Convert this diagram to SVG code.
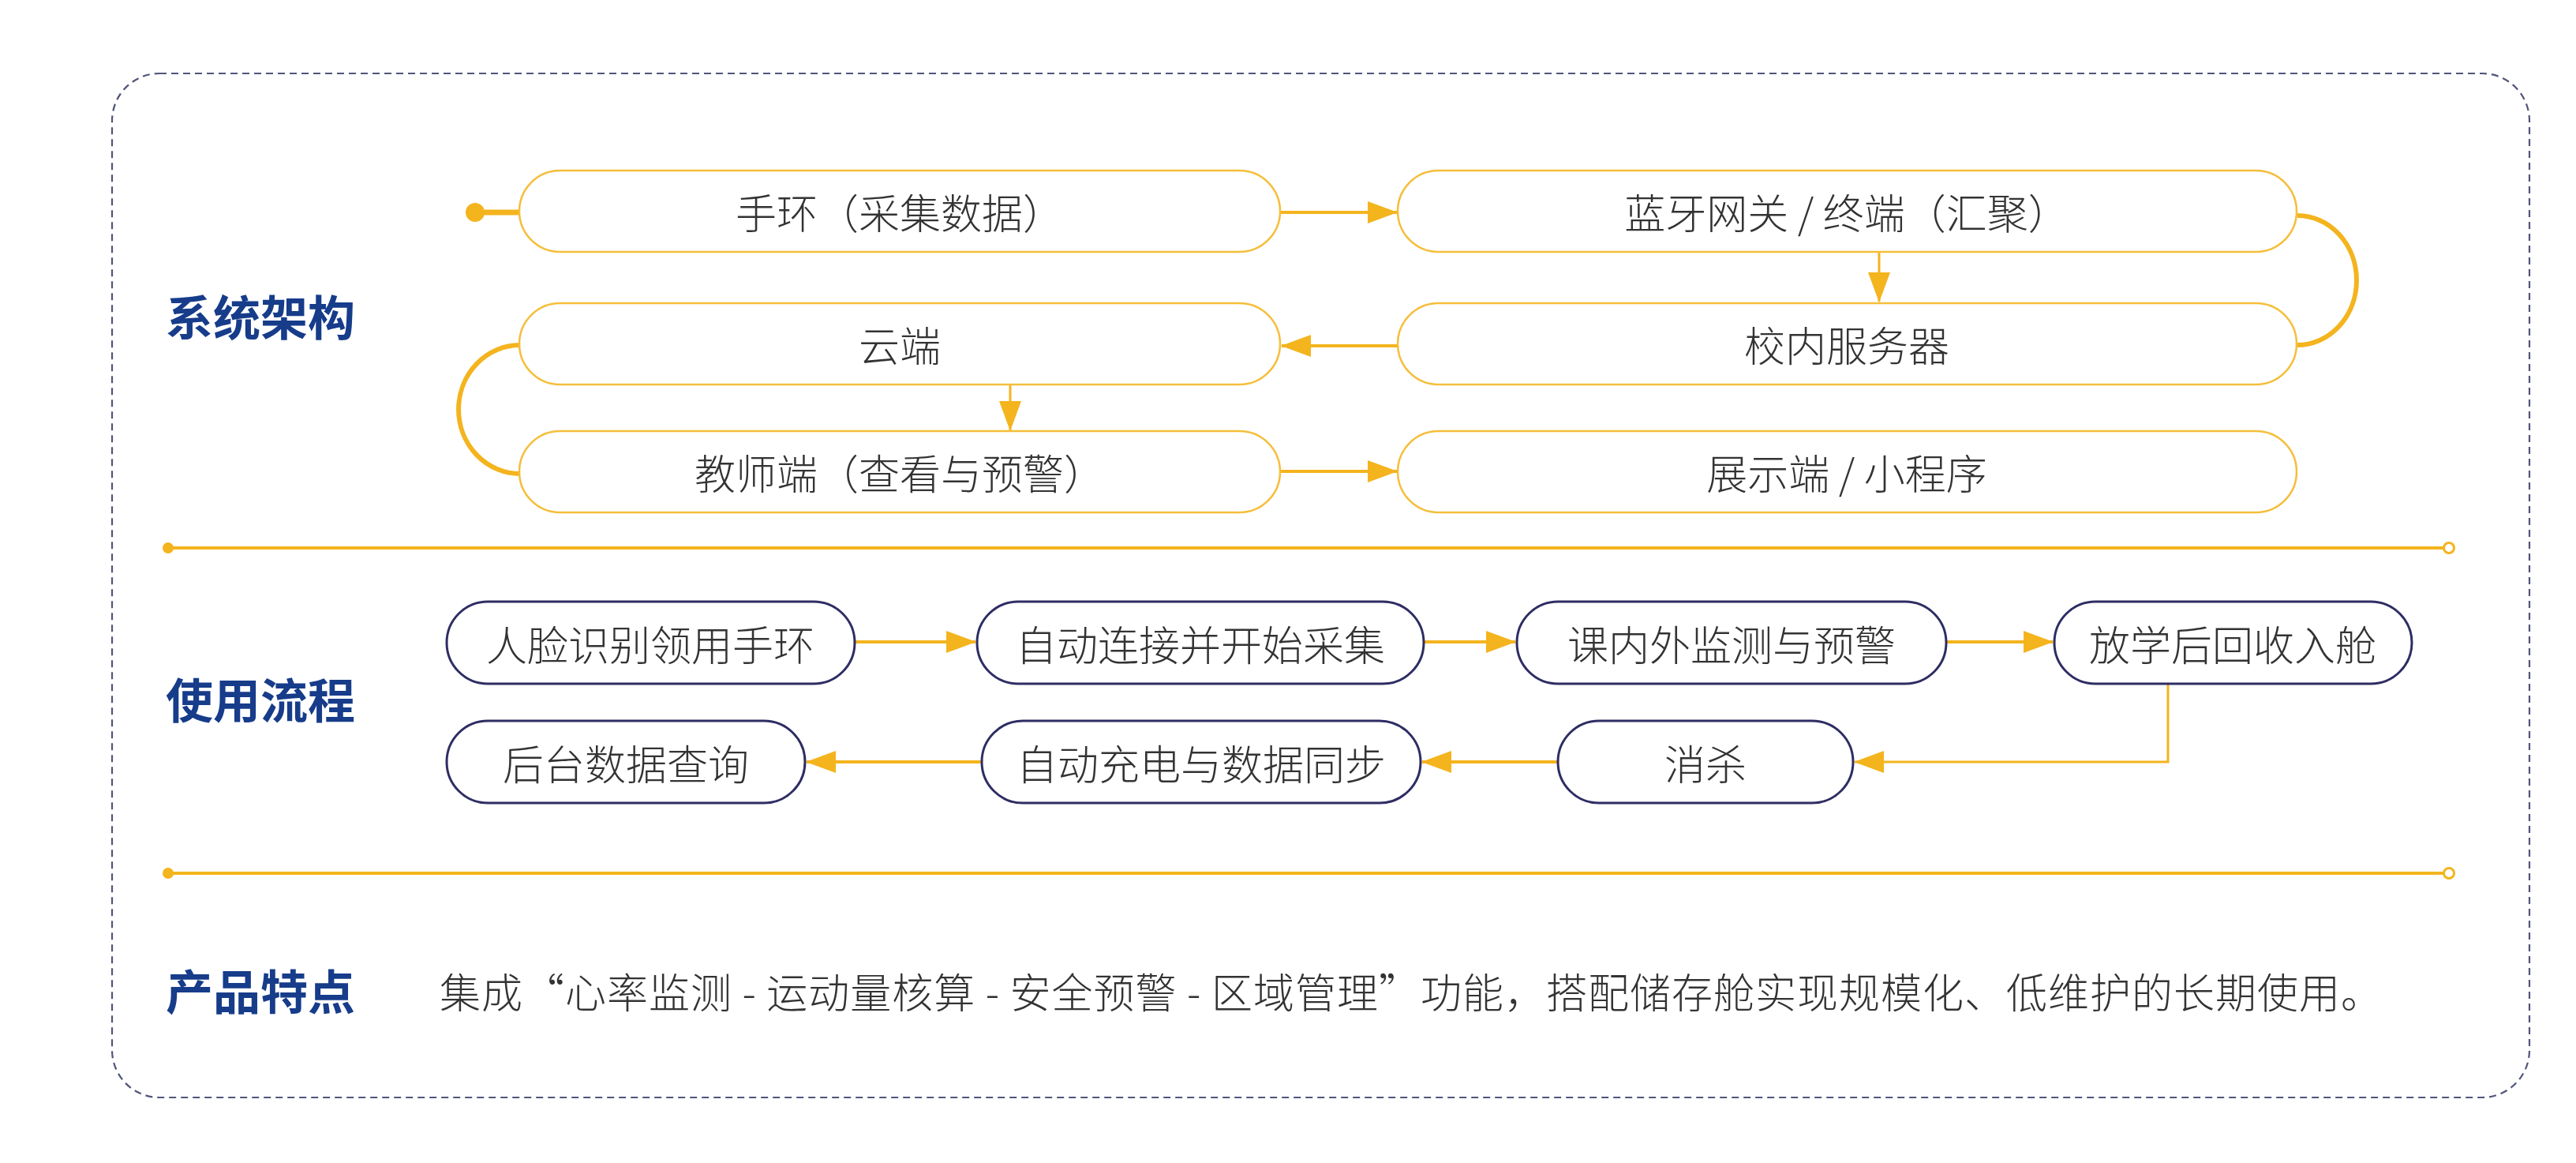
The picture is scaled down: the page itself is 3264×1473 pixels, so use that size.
<svg xmlns="http://www.w3.org/2000/svg" width="3264" height="1473" viewBox="0 0 3264 1473">
<defs>
<marker id="ah" viewBox="0 0 38 28" refX="37" refY="14" markerWidth="38" markerHeight="28" markerUnits="userSpaceOnUse" orient="auto">
<path d="M0,0 L38,14 L0,28 z" fill="#F4B41E"/>
</marker>
<style>
.title{font-family:"Noto Sans CJK SC","Noto Sans",sans-serif;font-weight:700;font-size:60px;fill:#163C8A;dominant-baseline:central}
.t{font-family:"Noto Sans CJK SC","Noto Sans",sans-serif;font-weight:300;font-size:52px;fill:#333333;text-anchor:middle;dominant-baseline:central}
.ft{font-family:"Noto Sans CJK SC","Noto Sans",sans-serif;font-weight:300;font-size:52px;fill:#333333;dominant-baseline:central}
.ynode{fill:#FFFFFF;stroke:#F5BE3A;stroke-width:2.5}
.bnode{fill:#FFFFFF;stroke:#2E2D63;stroke-width:3}
.ln{fill:none;stroke:#F4B41E;stroke-width:4}
.thin{fill:none;stroke:#F4B41E;stroke-width:3}
.arc{fill:none;stroke:#F4B41E;stroke-width:6}
.div{stroke:#F4B41E;stroke-width:4}
</style>
</defs>
<rect x="142" y="93" width="3063" height="1297" rx="60" ry="60" fill="#FFFFFF" stroke="#50557A" stroke-width="2.2" stroke-dasharray="9 6"/>

<g id="titles">
<text class="title" x="210" y="398">系统架构</text>
<text class="title" x="210" y="883">使用流程</text>
<text class="title" x="210" y="1252">产品特点</text>
</g>

<g id="dividers">
<line class="div" x1="213" y1="694" x2="3097" y2="694"/>
<circle cx="213" cy="694" r="7" fill="#F4B41E"/>
<circle cx="3103" cy="694" r="6.5" fill="#FFFFFF" stroke="#F4B41E" stroke-width="3"/>
<line class="div" x1="213" y1="1106" x2="3097" y2="1106"/>
<circle cx="213" cy="1106" r="7" fill="#F4B41E"/>
<circle cx="3103" cy="1106" r="6.5" fill="#FFFFFF" stroke="#F4B41E" stroke-width="3"/>
</g>

<g id="connectors">
<line x1="602" y1="269" x2="658" y2="269" stroke="#F4B41E" stroke-width="7"/>
<circle cx="602" cy="269" r="12" fill="#F4B41E"/>
<line class="ln" x1="1622" y1="269" x2="1770" y2="269" marker-end="url(#ah)"/>
<line class="thin" x1="2381" y1="318" x2="2381" y2="382" marker-end="url(#ah)"/>
<path class="arc" d="M2911 273 A75 82 0 0 1 2911 437"/>
<line class="ln" x1="1771" y1="438" x2="1624" y2="438" marker-end="url(#ah)"/>
<path class="arc" d="M659 437 A78 81.5 0 0 0 659 600"/>
<line class="thin" x1="1280" y1="487" x2="1280" y2="545" marker-end="url(#ah)"/>
<line class="ln" x1="1622" y1="597" x2="1770" y2="597" marker-end="url(#ah)"/>

<line class="ln" x1="1083" y1="813" x2="1236" y2="813" marker-end="url(#ah)"/>
<line class="ln" x1="1804" y1="813" x2="1920" y2="813" marker-end="url(#ah)"/>
<line class="ln" x1="2466" y1="813" x2="2601" y2="813" marker-end="url(#ah)"/>
<polyline class="thin" points="2747,866 2747,965 2350,965" marker-end="url(#ah)"/>
<line class="ln" x1="1974" y1="965" x2="1802" y2="965" marker-end="url(#ah)"/>
<line class="ln" x1="1244" y1="965" x2="1022" y2="965" marker-end="url(#ah)"/>
</g>

<g id="n1"><rect class="ynode" x="658" y="216" width="964" height="103" rx="51.5"/><text class="t" x="1140" y="267">手环（采集数据）</text></g>
<g id="n2"><rect class="ynode" x="1771" y="216" width="1139" height="103" rx="51.5"/><text class="t" x="2340" y="267">蓝牙网关 / 终端（汇聚）</text></g>
<g id="n3"><rect class="ynode" x="658" y="384" width="964" height="103" rx="51.5"/><text class="t" x="1140" y="435">云端</text></g>
<g id="n4"><rect class="ynode" x="1771" y="384" width="1139" height="103" rx="51.5"/><text class="t" x="2340" y="435">校内服务器</text></g>
<g id="n5"><rect class="ynode" x="658" y="546" width="964" height="103" rx="51.5"/><text class="t" x="1140" y="597">教师端（查看与预警）</text></g>
<g id="n6"><rect class="ynode" x="1771" y="546" width="1139" height="103" rx="51.5"/><text class="t" x="2340" y="597">展示端 / 小程序</text></g>

<g id="f1"><rect class="bnode" x="566" y="762" width="517" height="104" rx="52"/><text class="t" x="824" y="814">人脸识别领用手环</text></g>
<g id="f2"><rect class="bnode" x="1238" y="762" width="566" height="104" rx="52"/><text class="t" x="1521" y="814">自动连接并开始采集</text></g>
<g id="f3"><rect class="bnode" x="1922" y="762" width="544" height="104" rx="52"/><text class="t" x="2194" y="814">课内外监测与预警</text></g>
<g id="f4"><rect class="bnode" x="2603" y="762" width="453" height="104" rx="52"/><text class="t" x="2829" y="814">放学后回收入舱</text></g>
<g id="f5"><rect class="bnode" x="566" y="913" width="454" height="104" rx="52"/><text class="t" x="793" y="965">后台数据查询</text></g>
<g id="f6"><rect class="bnode" x="1244" y="913" width="556" height="104" rx="52"/><text class="t" x="1522" y="965">自动充电与数据同步</text></g>
<g id="f7"><rect class="bnode" x="1974" y="913" width="374" height="104" rx="52"/><text class="t" x="2161" y="965">消杀</text></g>

<g id="features">
<text class="ft" x="557" y="1254" textLength="2461" lengthAdjust="spacing">集成“心率监测 - 运动量核算 - 安全预警 - 区域管理”功能，搭配储存舱实现规模化、低维护的长期使用。</text>
</g>
</svg>
